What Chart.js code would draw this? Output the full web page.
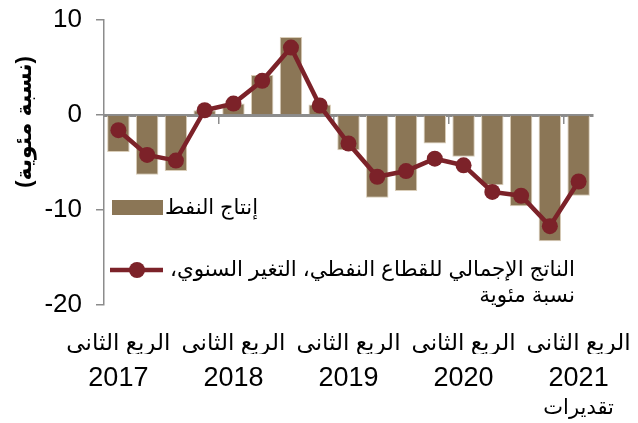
<!DOCTYPE html>
<html lang="ar">
<head>
<meta charset="utf-8">
<script src="https://cdn.jsdelivr.net/npm/chart.js@4.4.0/dist/chart.umd.min.js"></script>
<style>
  html, body { margin: 0; padding: 0; background: #fff; }
  #wrap { width: 638px; height: 423px; }
</style>
</head>
<body>
<div id="wrap"><canvas id="oil-chart" width="638" height="423"></canvas></div>
<script>
const FONT = "'Liberation Sans', 'DejaVu Sans', Arial, sans-serif";

// quarterly series, Q2 2017 .. Q2 2021
const quarters = [
  "2017Q2", "2017Q3", "2017Q4", "2018Q1", "2018Q2", "2018Q3", "2018Q4", "2019Q1",
  "2019Q2", "2019Q3", "2019Q4", "2020Q1", "2020Q2", "2020Q3", "2020Q4", "2021Q1", "2021Q2"
];
const oilProduction = [-3.9, -6.3, -5.9, 0.5, 1.2, 4.2, 8.2, 1.1, -3.7, -8.7, -8.0, -3.0, -4.4, -7.4, -9.6, -13.3, -8.5];
const oilGdp = [-1.6, -4.2, -4.8, 0.5, 1.2, 3.6, 7.1, 1.0, -3.0, -6.5, -5.9, -4.6, -5.3, -8.1, -8.5, -11.7, -7.0];

// one label every four quarters: quarter name, year, and a note under the last one
const quarterName = "الربع الثاني";
const yearLabels = ["2017", "2018", "2019", "2020", "2021"];
const noteLabels = ["", "", "", "", "تقديرات"];
const yTicks = [-20, -10, 0, 10];

const barLabel = "إنتاج النفط";
const lineLabel = ["الناتج الإجمالي للقطاع النفطي، التغير السنوي،", "نسبة مئوية"];
const yTitle = "(نسبة مئوية)";

const barColor = "#8b7656";
const lineColor = "#7c2229";
const axisColor = "#8c8c8c";

// legend inside the plot plus the rotated unit title
const legendPlugin = {
  id: "rtlLegend",
  afterDraw(chart) {
    const ctx = chart.ctx;
    const area = chart.chartArea;
    ctx.save();
    ctx.fillStyle = barColor;
    ctx.fillRect(area.left + 8, area.top + 180, 51, 15);

    ctx.strokeStyle = lineColor;
    ctx.lineWidth = 4.5;
    ctx.beginPath();
    ctx.moveTo(area.left + 6, area.top + 250);
    ctx.lineTo(area.left + 59, area.top + 250);
    ctx.stroke();
    ctx.fillStyle = lineColor;
    ctx.beginPath();
    ctx.arc(area.left + 33, area.top + 250, 8, 0, Math.PI * 2);
    ctx.fill();

    ctx.direction = "rtl";
    ctx.textAlign = "right";
    ctx.textBaseline = "middle";
    ctx.fillStyle = "#000";
    ctx.font = "21px " + FONT;
    ctx.fillText(barLabel, area.left + 154, area.top + 188);
    ctx.font = "21.5px " + FONT;
    ctx.fillText(lineLabel[0], area.left + 471, area.top + 250);
    ctx.fillText(lineLabel[1], area.left + 471, area.top + 276);

    ctx.translate(25, 122);
    ctx.rotate(-Math.PI / 2);
    ctx.textAlign = "center";
    ctx.font = "bold 22px " + FONT;
    ctx.fillText(yTitle, 0, 0);
    ctx.restore();
  }
};

// rows of category labels stacked under the plot
const labelAxis = (weight, height, size, padding, pick) => ({
  type: "category",
  position: "bottom",
  weight: weight,
  labels: quarters,
  offset: true,
  grid: { display: false },
  border: { display: false },
  ticks: {
    autoSkip: false,
    maxRotation: 0,
    minRotation: 0,
    padding: padding,
    color: "#000",
    font: { family: FONT, size: size, lineHeight: 1.2 },
    callback: (v, i) => (i % 4 === 0 ? pick(i / 4) : "")
  },
  afterFit: (s) => {
    s.height = height;
    // wide labels may spill past the plot edges
    s.paddingLeft = 0;
    s.paddingRight = 0;
  }
});

new Chart(document.getElementById("oil-chart"), {
  type: "bar",
  data: {
    labels: quarters,
    datasets: [
      {
        type: "line",
        label: lineLabel.join(" "),
        data: oilGdp,
        order: 0,
        borderColor: lineColor,
        backgroundColor: lineColor,
        borderWidth: 4.5,
        pointRadius: 8,
        pointBorderWidth: 0,
        pointBackgroundColor: lineColor,
        tension: 0
      },
      {
        type: "bar",
        label: barLabel,
        data: oilProduction,
        order: 1,
        backgroundColor: barColor,
        borderColor: "#d9cdb8",
        borderWidth: 1,
        barPercentage: 0.78,
        categoryPercentage: 1
      }
    ]
  },
  options: {
    responsive: false,
    animation: false,
    devicePixelRatio: 1,
    layout: { padding: { left: 0, right: 45, top: 20, bottom: 0 } },
    plugins: {
      legend: { display: false },
      tooltip: { enabled: false }
    },
    scales: {
      x: {
        type: "category",
        position: { y: 0 },
        offset: true,
        ticks: { display: false },
        grid: {
          offset: true,
          drawOnChartArea: false,
          tickLength: 7,
          lineWidth: 1.5,
          color: (c) => (c.index > 0 && c.index % 4 === 0) ? axisColor : "rgba(0,0,0,0)"
        },
        border: { color: axisColor, width: 3 }
      },
      xQuarter: labelAxis(0, 49, 23, 17, () => quarterName),
      xYear: labelAxis(1, 34, 27, 0, (k) => yearLabels[k]),
      xNote: labelAxis(2, 35, 21, 0, (k) => noteLabels[k]),
      y: {
        min: -20,
        max: 10,
        afterBuildTicks: (s) => { s.ticks = yTicks.map((v) => ({ value: v })); },
        ticks: {
          padding: 14,
          color: "#000",
          font: { family: FONT, size: 26, lineHeight: 0.4 }
        },
        grid: { drawOnChartArea: false, tickLength: 8, color: axisColor, lineWidth: 1.5 },
        border: { color: axisColor, width: 1.5 },
        afterFit: (s) => { s.width = 104; }
      }
    }
  },
  plugins: [legendPlugin]
});
</script>
</body>
</html>
